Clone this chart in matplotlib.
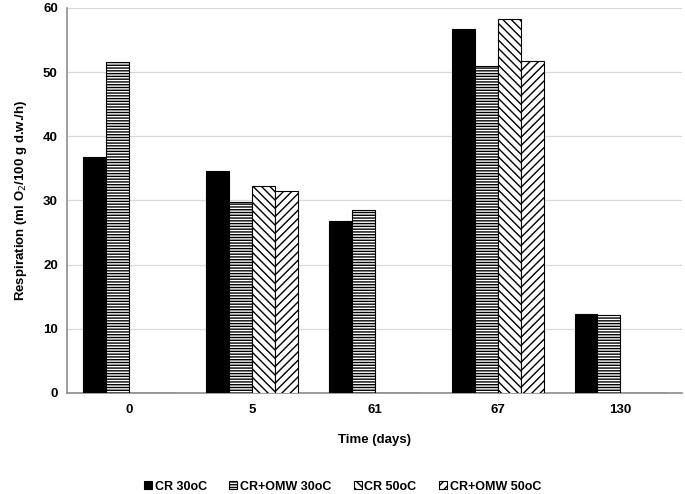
import matplotlib
matplotlib.use("Agg")
import matplotlib.pyplot as plt
import numpy as np

plt.rcParams['font.family'] = ['Liberation Sans', 'DejaVu Sans']
plt.rcParams['hatch.linewidth'] = 1.0

categories = ["0", "5", "61", "67", "130"]
series_names = ["CR 30oC", "CR+OMW 30oC", "CR 50oC", "CR+OMW 50oC"]
cr30 = [36.7, 34.6, 26.8, 56.7, 12.3]
cromw30 = [51.5, 29.7, 28.5, 51.0, 12.1]
cr50 = [0, 32.2, 0, 58.3, 0]
cromw50 = [0, 31.4, 0, 51.7, 0]
series = [cr30, cromw30, cr50, cromw50]

styles = [
    dict(facecolor='black', hatch=None),
    dict(facecolor='white', hatch='------'),
    dict(facecolor='white', hatch='\\\\\\\\'),
    dict(facecolor='white', hatch='////'),
]

fig = plt.figure(figsize=(6.85, 4.94), dpi=100)
ax = fig.add_axes([0.0985, 0.2045, 0.897, 0.7795])

x = np.arange(len(categories))
w = 0.187
handles = []
for i, (vals, st) in enumerate(zip(series, styles)):
    off = (i - 1.5) * w
    b = ax.bar(x + off, vals, width=w, color=st['facecolor'], hatch=st['hatch'],
               edgecolor='black', linewidth=0.8, label=series_names[i], zorder=3)
    handles.append(b)

ax.set_xlim(-0.5, len(categories) - 0.5)
ax.set_ylim(0, 60)
ax.set_yticks(range(0, 61, 10))
ax.set_xticks(x)
ax.set_xticklabels(categories, fontsize=9.5, fontweight='bold')
for t in ax.get_yticklabels():
    t.set_fontsize(9.5)
    t.set_fontweight('bold')
ax.tick_params(length=0, pad=7)
ax.tick_params(axis='x', pad=8)
ax.yaxis.grid(True, color='#d9d9d9', linewidth=0.9, zorder=0)
ax.set_axisbelow(True)
for s in ['top', 'right']:
    ax.spines[s].set_visible(False)
for s in ['left', 'bottom']:
    ax.spines[s].set_color('#8c8c8c')
    ax.spines[s].set_linewidth(1.2)

ax.set_ylabel('Respiration (ml O$_2$/100 g d.w./h)', fontsize=9.5, fontweight='bold', labelpad=10)
ax.set_xlabel('Time (days)', fontsize=9.5, fontweight='bold', labelpad=13)

fig.legend(handles=handles, labels=series_names, loc='lower center',
           bbox_to_anchor=(0.5, -0.02), ncol=4, frameon=False,
           prop={'size': 9, 'weight': 'bold'}, handlelength=0.65, handleheight=0.65,
           handletextpad=0.2, columnspacing=1.8)

fig.savefig('out.png', dpi=100)
